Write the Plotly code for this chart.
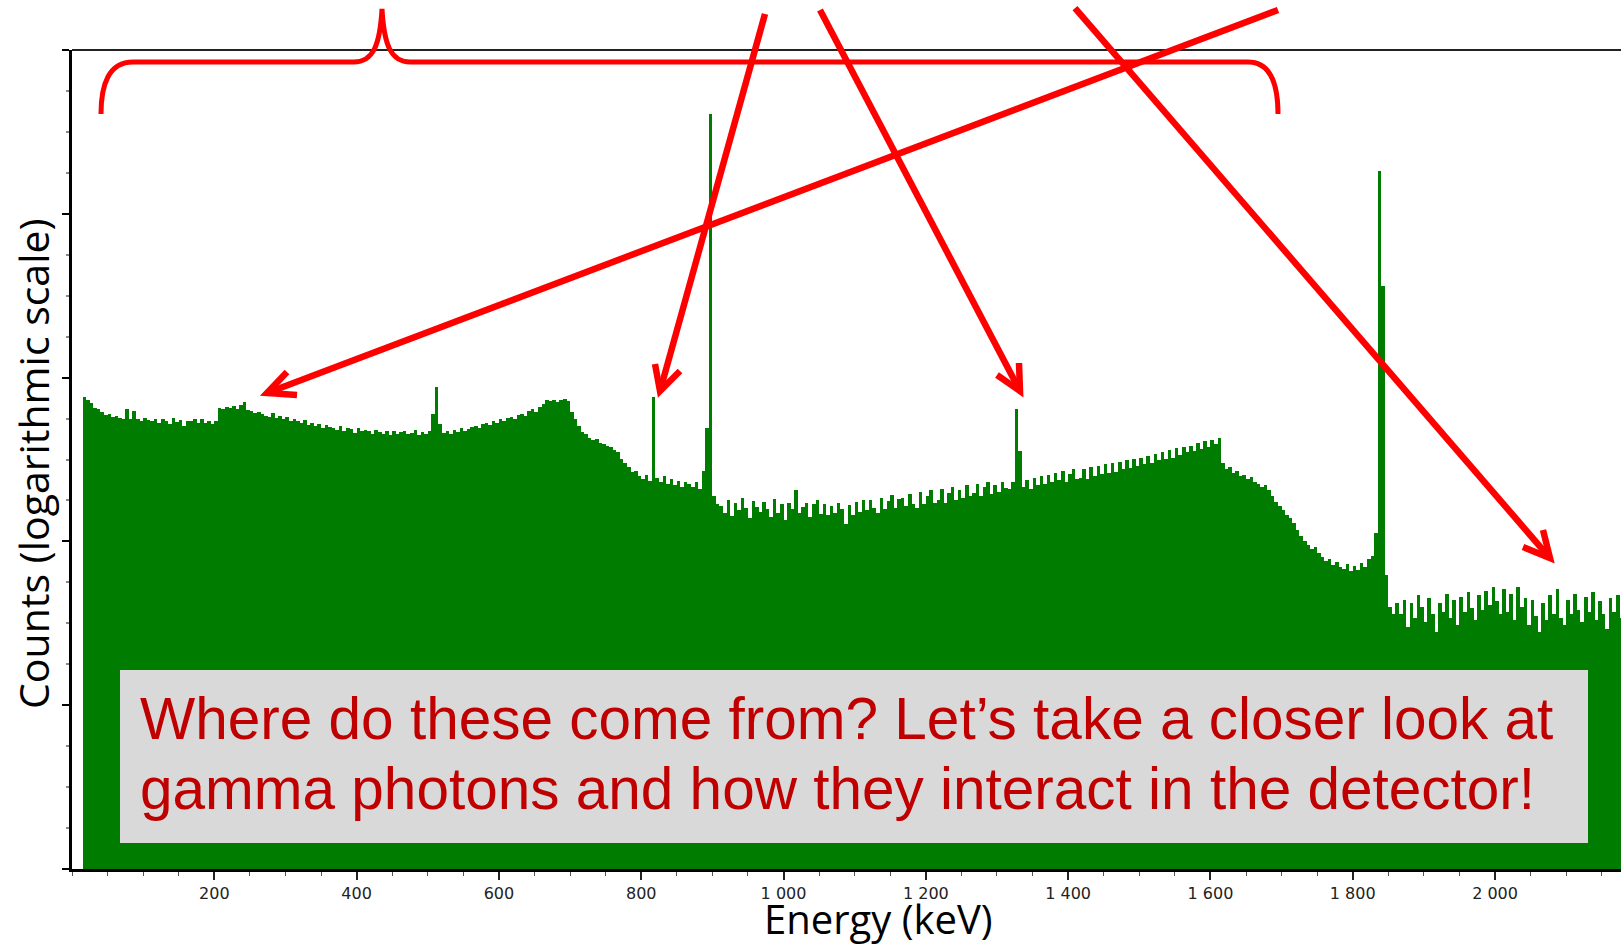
import plotly.graph_objects as go

# ---------------- data ----------------
bin_width_kev = 5
row_start_kev = [15, 65, 115, 165, 215, 265, 315, 365, 415, 465, 515, 565, 615, 665, 715, 765,
                 815, 865, 915, 965, 1015, 1065, 1115, 1165, 1215, 1265, 1315, 1365, 1415, 1465,
                 1515, 1565, 1615, 1665, 1715, 1765, 1815, 1865, 1915, 1965, 2015, 2065, 2115, 2165]
row_counts = [
    [760, 735, 700, 655, 640, 620, 590, 600, 575, 585],
    [570, 560, 640, 555, 625, 560, 545, 565, 550, 540],
    [555, 530, 560, 545, 520, 565, 535, 550, 510, 545],
    [540, 555, 525, 560, 530, 545, 520, 540, 655, 640],
    [665, 650, 670, 645, 680, 705, 630, 625, 610, 620],
    [600, 585, 575, 610, 570, 580, 555, 575, 545, 560],
    [540, 525, 550, 515, 530, 505, 520, 495, 515, 500],
    [495, 480, 505, 470, 490, 485, 460, 495, 475, 480],
    [470, 455, 480, 465, 450, 475, 445, 470, 455, 465],
    [470, 450, 460, 480, 445, 465, 455, 475, 600, 880],
    [520, 460, 470, 455, 480, 465, 490, 470, 485, 500],
    [505, 495, 520, 530, 515, 545, 530, 560, 545, 565],
    [575, 560, 590, 600, 585, 625, 640, 620, 665, 690],
    [735, 715, 730, 710, 725, 740, 720, 620, 555, 510],
    [465, 455, 430, 415, 420, 400, 395, 380, 375, 360],
    [350, 320, 300, 285, 265, 270, 250, 240, 255, 235],
    [760, 245, 230, 250, 225, 240, 220, 235, 215, 230],
    [225, 215, 230, 210, 268, 490, 40700, 190, 170, 165],
    [150, 180, 142, 172, 155, 185, 160, 138, 176, 162],
    [152, 175, 158, 140, 182, 150, 168, 135, 172, 158],
    [205, 150, 162, 172, 140, 168, 178, 148, 170, 145],
    [165, 150, 172, 158, 128, 166, 145, 175, 152, 178],
    [155, 180, 160, 150, 185, 158, 176, 192, 160, 182],
    [185, 165, 195, 170, 160, 200, 168, 188, 205, 172],
    [180, 210, 172, 198, 215, 178, 205, 185, 222, 190],
    [198, 225, 190, 215, 232, 195, 220, 200, 230, 212],
    [210, 230, 645, 355, 215, 238, 210, 245, 222, 252],
    [225, 255, 232, 262, 236, 268, 232, 258, 275, 240],
    [245, 278, 242, 285, 252, 290, 258, 295, 262, 300],
    [265, 305, 275, 312, 280, 320, 288, 325, 295, 332],
    [300, 340, 312, 352, 318, 362, 325, 370, 335, 378],
    [350, 385, 358, 400, 368, 410, 375, 418, 395, 430],
    [300, 275, 285, 262, 270, 250, 255, 240, 248, 232],
    [225, 215, 222, 205, 190, 175, 165, 155, 145, 138],
    [130, 118, 108, 100, 95, 90, 92, 85, 80, 76],
    [78, 72, 75, 70, 68, 73, 66, 71, 67, 74],
    [70, 78, 82, 112, 18200, 3630, 62, 40, 36, 42],
    [36, 44, 30, 42, 34, 47, 40, 32, 45, 36],
    [28, 42, 37, 48, 34, 44, 31, 46, 37, 49],
    [39, 33, 47, 38, 50, 41, 53, 43, 36, 51],
    [37, 48, 33, 53, 40, 45, 31, 44, 35, 28],
    [42, 33, 47, 36, 51, 34, 31, 44, 36, 48],
    [38, 32, 46, 37, 49, 33, 43, 36, 29, 45],
    [37, 47, 34, 42],
]
x_tick_values = [200, 400, 600, 800, 1000, 1200, 1400, 1600, 1800, 2000]
x_tick_labels = ["200", "400", "600", "800", "1 000", "1 200", "1 400", "1 600", "1 800", "2 000"]
y_decades = [1, 10, 100, 1000, 10000, 100000]

energies, counts = [], []
for start, row in zip(row_start_kev, row_counts):
    for j, c in enumerate(row):
        energies.append(start + bin_width_kev * j + bin_width_kev / 2)
        counts.append(c)

# ---------------- geometry helpers (pixel -> paper) ----------------
W, H = 1621, 944
L, R, T, B = 72, 0, 50, 75
PW, PH = W - L - R, H - T - B


def px(x):
    return (x - L) / PW


def py(y):
    return (H - B - y) / PH


def path(cmds):
    out = []
    for c in cmds:
        if isinstance(c, str):
            out.append(c)
        else:
            out.append(f"{px(c[0]):.5f},{py(c[1]):.5f}")
    return " ".join(out)


RED = "#FF0000"
fig = go.Figure()
fig.add_trace(go.Bar(x=energies, y=counts, width=bin_width_kev,
                     marker=dict(color="#007C00", line=dict(width=0)),
                     hoverinfo="skip"))

shapes = []
# top frame line
shapes.append(dict(type="line", xref="paper", yref="paper", x0=0, x1=1, y0=1, y1=1,
                   line=dict(color="#222", width=2)))
# text box
shapes.append(dict(type="rect", xref="paper", yref="paper", layer="above",
                   x0=px(120), x1=px(1588), y0=py(843), y1=py(670),
                   fillcolor="#D9D9D9", line=dict(width=0)))
# brace
brace = path(["M", (101, 114), "C", (101, 84), (109, 62), (133, 62), "L", (354, 62),
              "C", (373, 62), (380, 45), (382, 9), "C", (384, 45), (391, 62), (410, 62),
              "L", (1248, 62), "C", (1271, 62), (1278, 84), (1278, 114)])
shapes.append(dict(type="path", xref="paper", yref="paper", layer="above", path=brace,
                   line=dict(color=RED, width=5)))
arrows = [
    ((1278, 10), (267, 393), (297, 395), (287, 372)),
    ((765, 14), (660, 391), (655, 364), (680, 371)),
    ((820, 10), (1020, 391), (1019, 363), (997, 375)),
    ((1075, 8), (1550, 558), (1543, 530), (1523, 547)),
]
for start, tip, w1, w2 in arrows:
    shapes.append(dict(type="path", xref="paper", yref="paper", layer="above",
                       path=path(["M", start, "L", tip]), line=dict(color=RED, width=6.5)))
    shapes.append(dict(type="path", xref="paper", yref="paper", layer="above",
                       path=path(["M", w1, "L", tip, "L", w2]), line=dict(color=RED, width=6.5)))

fs = 58.5
annotations = [
    dict(text="Where do these come from? Let’s take a closer look at", x=px(138), y=py(738 - 0.33 * fs),
         xanchor="left", yanchor="middle"),
    dict(text="gamma photons and how they interact in the detector!", x=px(138), y=py(808 - 0.33 * fs),
         xanchor="left", yanchor="middle"),
]
for a in annotations:
    a.update(xref="paper", yref="paper", showarrow=False,
             font=dict(family="Liberation Sans, Arial", size=fs, color="#C00000"))
annotations.append(dict(text="Energy (keV)", x=px(878), y=py(918), xref="paper", yref="paper",
                        showarrow=False, xanchor="center", yanchor="middle",
                        font=dict(family="Open Sans", size=40, color="black")))
annotations.append(dict(text="Counts (logarithmic scale)", x=px(33), y=py(464), xref="paper", yref="paper",
                        showarrow=False, xanchor="center", yanchor="middle", textangle=-90,
                        font=dict(family="Open Sans", size=41, color="black")))

minor_y = [10 ** (k + f) for k in range(5) for f in (0.25, 0.5, 0.75)]

fig.update_layout(
    width=W, height=H, margin=dict(l=L, r=R, t=T, b=B),
    plot_bgcolor="white", paper_bgcolor="white", bargap=0, showlegend=False,
    shapes=shapes, annotations=annotations,
    xaxis=dict(range=[0, 2177], tickmode="array", tickvals=x_tick_values, ticktext=x_tick_labels,
               ticks="outside", ticklen=8, tickwidth=1.5, tickcolor="#222",
               showline=True, linewidth=3, linecolor="black", showgrid=False, zeroline=False,
               tickfont=dict(family="DejaVu Sans", size=16, color="#222"),
               minor=dict(dtick=50, tick0=0, ticks="outside", ticklen=4, tickwidth=1, tickcolor="#555",
                          showgrid=False)),
    yaxis=dict(type="log", range=[0, 5], tickmode="array", tickvals=y_decades, showticklabels=False,
               ticks="outside", ticklen=7, tickwidth=2, tickcolor="black",
               showline=True, linewidth=3, linecolor="black", showgrid=False, zeroline=False,
               minor=dict(tickmode="array", tickvals=minor_y, ticks="outside", ticklen=3,
                          tickwidth=1.5, tickcolor="#888", showgrid=False)),
)

fig.write_html("out.html")
